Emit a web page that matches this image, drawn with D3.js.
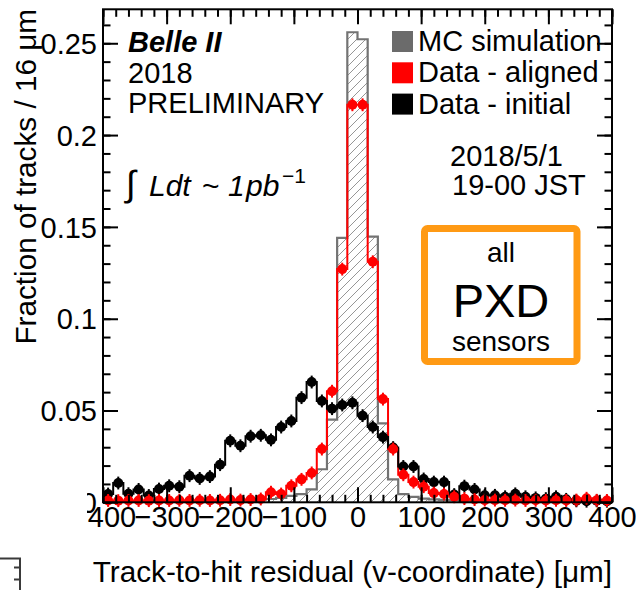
<!DOCTYPE html>
<html>
<head>
<meta charset="utf-8">
<script src="https://cdn.jsdelivr.net/npm/d3@7"></script>
<style>
  body { margin: 0; background: #fff; }
  svg { display: block; }
  text { font-family: "Liberation Sans", Arial, Helvetica, sans-serif; }
</style>
</head>
<body>
<svg id="chart" width="636" height="590"></svg>
<script>
// Track-to-hit residuals, 50 bins of 16 um between -400 and +400 um
const binLow = -400;
const binWidth = 16;

const mcSimulation = [
  0.0003, 0.0003, 0.0003, 0.0004, 0.0004, 0.0004, 0.0005, 0.0005, 0.0006, 0.0006,
  0.0007, 0.0008, 0.0009, 0.0010, 0.0012, 0.0014, 0.0018, 0.0024, 0.0035, 0.0045,
  0.0070, 0.0180, 0.0450, 0.1440, 0.2560, 0.2522, 0.1447, 0.0430, 0.0125, 0.0045,
  0.0030, 0.0020, 0.0016, 0.0013, 0.0011, 0.0009, 0.0008, 0.0007, 0.0006, 0.0005,
  0.0005, 0.0004, 0.0004, 0.0004, 0.0003, 0.0003, 0.0003, 0.0003, 0.0003, 0.0003
];

const dataAligned = [
  0.0010, 0.0009, 0.0010, 0.0010, 0.0009, 0.0010, 0.0010, 0.0011, 0.0010, 0.0011,
  0.0010, 0.0011, 0.0015, 0.0012, 0.0015, 0.0018, 0.0055, 0.0045, 0.0090, 0.0125,
  0.0160, 0.0290, 0.0605, 0.1270, 0.2165, 0.2165, 0.1310, 0.0562, 0.0290, 0.0150,
  0.0110, 0.0085, 0.0050, 0.0045, 0.0030, 0.0020, 0.0015, 0.0012, 0.0012, 0.0011,
  0.0012, 0.0010, 0.0011, 0.0010, 0.0011, 0.0010, 0.0012, 0.0022, 0.0011, 0.0010
];

const dataInitial = [
  0.0045, 0.0105, 0.0047, 0.0070, 0.0037, 0.0072, 0.0090, 0.0085, 0.0145, 0.0130,
  0.0140, 0.0205, 0.0335, 0.0308, 0.0360, 0.0365, 0.0340, 0.0410, 0.0443, 0.0570,
  0.0655, 0.0552, 0.0510, 0.0530, 0.0542, 0.0472, 0.0410, 0.0355, 0.0298, 0.0195,
  0.0195, 0.0127, 0.0110, 0.0110, 0.0042, 0.0088, 0.0070, 0.0038, 0.0038, 0.0030,
  0.0046, 0.0030, 0.0024, 0.0020, 0.0030, 0.0016, 0.0008, 0.0006, 0.0008, 0.0006
];

// statistical uncertainty per bin of each data sample
const errAligned = 0.0035;
const errInitial = 0.0035;

const xMajorTicks = [-400, -300, -200, -100, 0, 100, 200, 300, 400];
const xTickLabels = ["\u2212400", "\u2212300", "\u2212200", "\u2212100", "0", "100", "200", "300", "400"];
const yMajorTicks = [0, 0.05, 0.1, 0.15, 0.2, 0.25];
const yTickLabels = ["0", "0.05", "0.1", "0.15", "0.2", "0.25"];

const legendLabels = ["MC simulation", "Data - aligned", "Data - initial"];
const legendColors = ["#6b6b6b", "#ff0000", "#000000"];

const svg = d3.select("#chart");
const FS = 29;

const x = d3.scaleLinear().domain([-400, 400]).range([103, 612]);
const y = d3.scaleLinear().domain([0, 0.2685]).range([502.3, 9.3]);

const binLeft = i => binLow + i * binWidth;
const binCenter = i => binLow + (i + 0.5) * binWidth;

// hatch pattern for the simulated distribution
const defs = svg.append("defs");
const pat = defs.append("pattern")
  .attr("id", "hatch").attr("patternUnits", "userSpaceOnUse")
  .attr("width", 9).attr("height", 9);
pat.append("path")
  .attr("d", "M0,9 L9,0 M-1,1 L1,-1 M8,10 L10,8")
  .attr("stroke", "#8a8a8a").attr("stroke-width", 0.9);

// the lower pad corner hides everything left of x = 87 near the axis origin
defs.append("clipPath").attr("id", "labelClip")
  .append("path").attr("d", "M0,0 H636 V590 H0 V545 H87 V488 H0 Z");

// step outline of a histogram
function stepPoints(values) {
  const pts = [];
  values.forEach((v, i) => {
    pts.push([x(binLeft(i)), y(v)]);
    pts.push([x(binLeft(i) + binWidth), y(v)]);
  });
  return pts;
}
const line = d3.line();

// MC: hatched area + grey outline
const mcPts = stepPoints(mcSimulation);
const mcArea = [[x(-400), y(0)], ...mcPts, [x(400), y(0)]];
svg.append("path").attr("d", line(mcArea) + "Z")
  .attr("fill", "url(#hatch)").attr("stroke", "none");
svg.append("path").attr("d", line(mcPts))
  .attr("fill", "none").attr("stroke", "#737373").attr("stroke-width", 2.2);

// data step lines
svg.append("path").attr("d", line(stepPoints(dataAligned)))
  .attr("fill", "none").attr("stroke", "#ff0000").attr("stroke-width", 2);
svg.append("path").attr("d", line(stepPoints(dataInitial)))
  .attr("fill", "none").attr("stroke", "#000").attr("stroke-width", 2);

function drawMarkers(values, err, color) {
  const g = svg.append("g");
  g.selectAll("line").data(values).join("line")
    .attr("x1", (d, i) => x(binCenter(i))).attr("x2", (d, i) => x(binCenter(i)))
    .attr("y1", d => y(d - err)).attr("y2", d => y(d + err))
    .attr("stroke", color).attr("stroke-width", 2);
  g.selectAll("circle").data(values).join("circle")
    .attr("cx", (d, i) => x(binCenter(i))).attr("cy", d => y(d))
    .attr("r", 5).attr("fill", color);
}
drawMarkers(dataInitial, errInitial, "#000");
drawMarkers(dataAligned, errAligned, "#ff0000");

// legend
const leg = svg.append("g");
legendLabels.forEach((lab, i) => {
  leg.append("rect").attr("x", 392).attr("y", 31 + i * 31.3)
    .attr("width", 21).attr("height", 21).attr("fill", legendColors[i]);
  leg.append("text").attr("x", 418).attr("y", 51 + i * 31.3)
    .attr("font-size", FS).text(lab);
});

// axes
function styleAxis(g) {
  g.select(".domain").remove();
  g.selectAll(".tick line").attr("stroke", "#000").attr("stroke-width", 2);
}
const xMinor = d3.range(-400, 401, 20);
const yMinor = d3.range(0, 0.2651, 0.01);
const labels = svg.append("g").attr("clip-path", "url(#labelClip)");

svg.append("g").attr("transform", `translate(0,${y(0)})`)
  .call(d3.axisBottom(x).tickValues(xMinor).tickSize(-7.5).tickFormat(""))
  .call(styleAxis);
const xAx = labels.append("g").attr("transform", `translate(0,${y(0)})`)
  .call(d3.axisBottom(x).tickValues(xMajorTicks).tickSize(-15).tickPadding(25)
    .tickFormat((d, i) => xTickLabels[i]))
  .call(styleAxis);
xAx.selectAll("text").attr("font-size", FS).attr("fill", "#000").attr("dy", 0);

svg.append("g").attr("transform", `translate(0,${y(0.2685)})`)
  .call(d3.axisTop(x).tickValues(xMinor).tickSize(-7.5).tickFormat(""))
  .call(styleAxis);
svg.append("g").attr("transform", `translate(0,${y(0.2685)})`)
  .call(d3.axisTop(x).tickValues(xMajorTicks).tickSize(-15).tickFormat(""))
  .call(styleAxis);

svg.append("g").attr("transform", `translate(${x(-400)},0)`)
  .call(d3.axisLeft(y).tickValues(yMinor).tickSize(-7.5).tickFormat(""))
  .call(styleAxis);
const yAx = labels.append("g").attr("transform", `translate(${x(-400)},0)`)
  .call(d3.axisLeft(y).tickValues(yMajorTicks).tickSize(-15).tickPadding(6)
    .tickFormat((d, i) => yTickLabels[i]))
  .call(styleAxis);
yAx.selectAll("text").attr("font-size", FS).attr("fill", "#000").attr("dy", "0.35em");

svg.append("g").attr("transform", `translate(${x(400)},0)`)
  .call(d3.axisRight(y).tickValues(yMinor).tickSize(-7.5).tickFormat(""))
  .call(styleAxis);
svg.append("g").attr("transform", `translate(${x(400)},0)`)
  .call(d3.axisRight(y).tickValues(yMajorTicks).tickSize(-15).tickFormat(""))
  .call(styleAxis);

// frame
svg.append("rect")
  .attr("x", x(-400)).attr("y", y(0.2685))
  .attr("width", x(400) - x(-400)).attr("height", y(0) - y(0.2685))
  .attr("fill", "none").attr("stroke", "#000").attr("stroke-width", 2);

// axis titles
svg.append("text")
  .attr("transform", `translate(36,9) rotate(-90)`)
  .attr("text-anchor", "end").attr("font-size", 29.7)
  .text("Fraction of tracks / 16 \u03bcm");
svg.append("text")
  .attr("x", 612).attr("y", 582).attr("text-anchor", "end").attr("font-size", 29.7)
  .text("Track-to-hit residual (v-coordinate) [\u03bcm]");

// labels
svg.append("text").attr("x", 128).attr("y", 52).attr("font-size", FS)
  .attr("font-weight", "bold").attr("font-style", "italic").text("Belle II");
svg.append("text").attr("x", 128).attr("y", 83).attr("font-size", FS).text("2018");
svg.append("text").attr("x", 128).attr("y", 113).attr("font-size", FS).text("PRELIMINARY");

// integrated luminosity
const lumY = 196;
const lum = svg.append("text").attr("y", lumY).attr("font-size", 30).attr("font-style", "italic");
lum.append("tspan").attr("x", 126).attr("font-size", 36).attr("font-style", "normal").text("\u222b");
lum.append("tspan").attr("x", 149).text("Ldt");
lum.append("tspan").attr("x", 202).attr("font-style", "normal").text("~");
lum.append("tspan").attr("x", 228).text("1");
lum.append("tspan").attr("x", 246).text("pb");
lum.append("tspan").attr("x", 282).attr("dy", -13).attr("font-size", 21)
  .attr("font-style", "normal").text("\u22121");

svg.append("text").attr("x", 450).attr("y", 166).attr("font-size", FS).text("2018/5/1");
svg.append("text").attr("x", 452).attr("y", 195).attr("font-size", FS).text("19-00 JST");

// sensor box
svg.append("rect").attr("x", 424.5).attr("y", 228.5).attr("width", 152.5).attr("height", 133)
  .attr("rx", 3).attr("fill", "none").attr("stroke", "#ff9a14").attr("stroke-width", 7);
svg.append("text").attr("x", 501).attr("y", 262).attr("text-anchor", "middle")
  .attr("font-size", 28).text("all");
svg.append("text").attr("x", 501).attr("y", 317).attr("text-anchor", "middle")
  .attr("font-size", 47).text("PXD");
svg.append("text").attr("x", 501).attr("y", 351).attr("text-anchor", "middle")
  .attr("font-size", 28).text("sensors");

// corner of the lower pad frame
svg.append("path").attr("d", "M0,558.5 H20 V590 M14,567.5 H20 M14,579.5 H20")
  .attr("fill", "none").attr("stroke", "#3a3a3a").attr("stroke-width", 2);
</script>
</body>
</html>
